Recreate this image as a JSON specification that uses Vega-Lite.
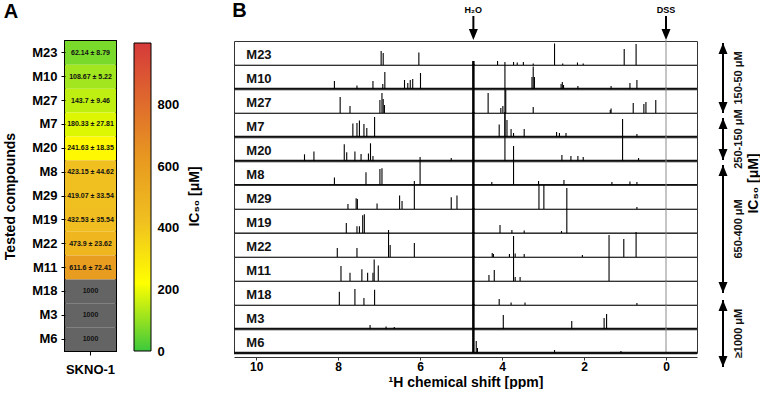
{
  "$schema": "https://vega.github.io/schema/vega-lite/v6.json",
  "padding": {"left": 2, "top": 0, "right": 0, "bottom": 0},
  "background": "white",
  "config": {
    "font": "Liberation Sans",
    "view": {"stroke": "#333", "strokeWidth": 1},
    "axis": {"labelColor": "#000", "titleColor": "#000", "grid": false},
    "title": {"color": "#000"}
  },
  "spacing": 30,
  "resolve": {"scale": {"x": "independent", "y": "independent", "color": "independent"}, "legend": {"color": "independent"}},
  "hconcat": [
    {
      "spacing": 16,
      "resolve": {"scale": {"x": "independent", "y": "independent", "color": "independent"}},
      "hconcat": [
        {
          "title": {"text": "A", "anchor": "start", "baseline": "alphabetic", "offset": 3, "fontSize": 20, "fontWeight": "bold"},
          "width": 51,
          "height": 310,
          "view": {"stroke": "black", "strokeWidth": 2},
          "data": {"values": [
            {"compound": "M23", "line": "SKNO-1", "ic50": 62.14, "label": "62.14 ± 8.79"},
            {"compound": "M10", "line": "SKNO-1", "ic50": 108.67, "label": "108.67 ± 5.22"},
            {"compound": "M27", "line": "SKNO-1", "ic50": 143.7, "label": "143.7 ± 9.46"},
            {"compound": "M7", "line": "SKNO-1", "ic50": 180.33, "label": "180.33 ± 27.81"},
            {"compound": "M20", "line": "SKNO-1", "ic50": 241.63, "label": "241.63 ± 18.35"},
            {"compound": "M8", "line": "SKNO-1", "ic50": 423.15, "label": "423.15 ± 44.62"},
            {"compound": "M29", "line": "SKNO-1", "ic50": 419.07, "label": "419.07 ± 33.54"},
            {"compound": "M19", "line": "SKNO-1", "ic50": 432.53, "label": "432.53 ± 35.54"},
            {"compound": "M22", "line": "SKNO-1", "ic50": 473.9, "label": "473.9 ± 23.62"},
            {"compound": "M11", "line": "SKNO-1", "ic50": 611.6, "label": "611.6 ± 72.41"},
            {"compound": "M18", "line": "SKNO-1", "ic50": 1000, "label": "1000"},
            {"compound": "M3", "line": "SKNO-1", "ic50": 1000, "label": "1000"},
            {"compound": "M6", "line": "SKNO-1", "ic50": 1000, "label": "1000"}
          ]},
          "encoding": {
            "x": {"field": "line", "type": "nominal", "axis": {"title": null, "labelAngle": 0, "labelFontSize": 13, "labelFontWeight": "bold", "labelPadding": 8, "tickSize": 4, "tickColor": "#000", "domain": false}},
            "y": {"field": "compound", "type": "nominal", "sort": null, "axis": {"title": "Tested compounds", "titleFontSize": 14, "titleFontWeight": "bold", "titlePadding": 14, "labelFontSize": 13, "labelFontWeight": "bold", "labelPadding": 4, "tickSize": 4, "tickColor": "#000", "domain": false}}
          },
          "layer": [
            {
              "mark": {"type": "rect"},
              "encoding": {
                "color": {
                  "condition": {"test": "datum.ic50 >= 1000", "value": "#646464"},
                  "field": "ic50", "type": "quantitative",
                  "scale": {"domain": [0, 220, 420, 620, 1000], "range": ["#3cc83c", "#ffff00", "#f0c020", "#e89a20", "#d63a3a"]},
                  "legend": null
                }
              }
            },
            {
              "mark": {"type": "text", "fontSize": 7, "fontWeight": "bold", "color": "#111"},
              "encoding": {"text": {"field": "label", "type": "nominal"}}
            }
          ]
        },
        {
          "width": 17,
          "height": 310,
          "view": {"stroke": null},
          "data": {"values": [{"lo": 0, "hi": 1000}]},
          "mark": {"type": "rect", "stroke": "#000", "strokeWidth": 1, "color": {"gradient": "linear", "x1": 0, "y1": 1, "x2": 0, "y2": 0, "stops": [{"offset": 0, "color": "#3cc83c"}, {"offset": 0.22, "color": "#ffff00"}, {"offset": 0.42, "color": "#f0c020"}, {"offset": 0.62, "color": "#e89a20"}, {"offset": 1, "color": "#d63a3a"}]}},
          "encoding": {
            "y": {"field": "lo", "type": "quantitative", "scale": {"domain": [0, 1006.5], "nice": false, "zero": false}, "axis": {"orient": "right", "values": [0, 200, 400, 600, 800], "title": "IC₅₀ [μM]", "titleAngle": 270, "titleFontSize": 14, "titleFontWeight": "bold", "titlePadding": 23, "labelFontSize": 13, "labelFontWeight": "bold", "labelPadding": 6, "ticks": false, "domain": false}},
            "y2": {"field": "hi"}
          }
        }
      ]
    },
    {
      "spacing": 12,
      "resolve": {"scale": {"x": "independent", "y": "independent"}},
      "hconcat": [
        {
          "title": {"text": "B", "anchor": "start", "baseline": "alphabetic", "offset": 18, "dy": 49, "fontSize": 20, "fontWeight": "bold"},
          "bounds": "flush",
          "data": {"values": [
            {"compound": "M23", "kind": "marker", "label": "H₂O", "ppm": 4.7},
            {"compound": "M23", "kind": "marker", "label": "DSS", "ppm": 0},
            {"compound": "M23", "kind": "base", "noise": 1},
            {"compound": "M10", "kind": "base", "noise": 2.5},
            {"compound": "M27", "kind": "base", "noise": 1},
            {"compound": "M7", "kind": "base", "noise": 2.5},
            {"compound": "M20", "kind": "base", "noise": 2.5},
            {"compound": "M8", "kind": "base", "noise": 2},
            {"compound": "M29", "kind": "base", "noise": 1},
            {"compound": "M19", "kind": "base", "noise": 1.5},
            {"compound": "M22", "kind": "base", "noise": 1},
            {"compound": "M11", "kind": "base", "noise": 1},
            {"compound": "M18", "kind": "base", "noise": 1},
            {"compound": "M3", "kind": "base", "noise": 2.5},
            {"compound": "M6", "kind": "base", "noise": 2.5},
            {"compound": "M23", "kind": "water", "ppm": 4.7, "h": 4},
            {"compound": "M10", "kind": "water", "ppm": 4.7, "h": 25},
            {"compound": "M27", "kind": "water", "ppm": 4.7, "h": 25},
            {"compound": "M7", "kind": "water", "ppm": 4.7, "h": 25},
            {"compound": "M20", "kind": "water", "ppm": 4.7, "h": 25},
            {"compound": "M8", "kind": "water", "ppm": 4.7, "h": 25},
            {"compound": "M29", "kind": "water", "ppm": 4.7, "h": 25},
            {"compound": "M19", "kind": "water", "ppm": 4.7, "h": 25},
            {"compound": "M22", "kind": "water", "ppm": 4.7, "h": 25},
            {"compound": "M11", "kind": "water", "ppm": 4.7, "h": 25},
            {"compound": "M18", "kind": "water", "ppm": 4.7, "h": 25},
            {"compound": "M3", "kind": "water", "ppm": 4.7, "h": 25},
            {"compound": "M6", "kind": "water", "ppm": 4.7, "h": 25},
            {"compound": "M23", "kind": "dss", "ppm": 0, "h": 25},
            {"compound": "M10", "kind": "dss", "ppm": 0, "h": 25},
            {"compound": "M27", "kind": "dss", "ppm": 0, "h": 25},
            {"compound": "M7", "kind": "dss", "ppm": 0, "h": 25},
            {"compound": "M20", "kind": "dss", "ppm": 0, "h": 25},
            {"compound": "M8", "kind": "dss", "ppm": 0, "h": 25},
            {"compound": "M29", "kind": "dss", "ppm": 0, "h": 25},
            {"compound": "M19", "kind": "dss", "ppm": 0, "h": 25},
            {"compound": "M22", "kind": "dss", "ppm": 0, "h": 25},
            {"compound": "M11", "kind": "dss", "ppm": 0, "h": 25},
            {"compound": "M18", "kind": "dss", "ppm": 0, "h": 25},
            {"compound": "M3", "kind": "dss", "ppm": 0, "h": 25},
            {"compound": "M6", "kind": "dss", "ppm": 0, "h": 25},
            {"compound": "M23", "kind": "peak", "ppm": 6.95, "h": 14},
            {"compound": "M23", "kind": "peak", "ppm": 6.9, "h": 12},
            {"compound": "M23", "kind": "peak", "ppm": 6.03, "h": 12.5},
            {"compound": "M23", "kind": "peak", "ppm": 4.11, "h": 4},
            {"compound": "M23", "kind": "peak", "ppm": 3.93, "h": 3},
            {"compound": "M23", "kind": "peak", "ppm": 3.72, "h": 3},
            {"compound": "M23", "kind": "peak", "ppm": 3.63, "h": 2.5},
            {"compound": "M23", "kind": "peak", "ppm": 3.48, "h": 3},
            {"compound": "M23", "kind": "peak", "ppm": 3.24, "h": 1.5},
            {"compound": "M23", "kind": "peak", "ppm": 2.72, "h": 21.5},
            {"compound": "M23", "kind": "peak", "ppm": 2.52, "h": 1.5},
            {"compound": "M23", "kind": "peak", "ppm": 2.16, "h": 2.5},
            {"compound": "M23", "kind": "peak", "ppm": 2.02, "h": 1.5},
            {"compound": "M23", "kind": "peak", "ppm": 1.02, "h": 16},
            {"compound": "M23", "kind": "peak", "ppm": 0.73, "h": 21},
            {"compound": "M10", "kind": "peak", "ppm": 8.09, "h": 8},
            {"compound": "M10", "kind": "peak", "ppm": 7.54, "h": 3.5},
            {"compound": "M10", "kind": "peak", "ppm": 7.15, "h": 8},
            {"compound": "M10", "kind": "peak", "ppm": 6.91, "h": 5},
            {"compound": "M10", "kind": "peak", "ppm": 6.86, "h": 17},
            {"compound": "M10", "kind": "peak", "ppm": 6.38, "h": 9},
            {"compound": "M10", "kind": "peak", "ppm": 6.3, "h": 6},
            {"compound": "M10", "kind": "peak", "ppm": 6.24, "h": 9},
            {"compound": "M10", "kind": "peak", "ppm": 6.18, "h": 10},
            {"compound": "M10", "kind": "peak", "ppm": 5.99, "h": 16},
            {"compound": "M10", "kind": "peak", "ppm": 3.27, "h": 12},
            {"compound": "M10", "kind": "peak", "ppm": 3.24, "h": 22.5},
            {"compound": "M10", "kind": "peak", "ppm": 3.21, "h": 12},
            {"compound": "M10", "kind": "peak", "ppm": 2.56, "h": 5},
            {"compound": "M10", "kind": "peak", "ppm": 2.53, "h": 7},
            {"compound": "M10", "kind": "peak", "ppm": 2.5, "h": 4},
            {"compound": "M10", "kind": "peak", "ppm": 2.15, "h": 3},
            {"compound": "M10", "kind": "peak", "ppm": 1.34, "h": 3},
            {"compound": "M10", "kind": "peak", "ppm": 0.88, "h": 6},
            {"compound": "M10", "kind": "peak", "ppm": 0.71, "h": 9},
            {"compound": "M27", "kind": "peak", "ppm": 7.95, "h": 16},
            {"compound": "M27", "kind": "peak", "ppm": 7.71, "h": 7},
            {"compound": "M27", "kind": "peak", "ppm": 6.98, "h": 13},
            {"compound": "M27", "kind": "peak", "ppm": 6.93, "h": 20},
            {"compound": "M27", "kind": "peak", "ppm": 6.9, "h": 14},
            {"compound": "M27", "kind": "peak", "ppm": 6.87, "h": 8},
            {"compound": "M27", "kind": "peak", "ppm": 4.34, "h": 20},
            {"compound": "M27", "kind": "peak", "ppm": 4.03, "h": 5},
            {"compound": "M27", "kind": "peak", "ppm": 3.98, "h": 7},
            {"compound": "M27", "kind": "peak", "ppm": 3.91, "h": 23},
            {"compound": "M27", "kind": "peak", "ppm": 3.24, "h": 6},
            {"compound": "M27", "kind": "peak", "ppm": 1.36, "h": 3},
            {"compound": "M27", "kind": "peak", "ppm": 1.34, "h": 4.5},
            {"compound": "M27", "kind": "peak", "ppm": 0.8, "h": 10},
            {"compound": "M27", "kind": "peak", "ppm": 0.54, "h": 9},
            {"compound": "M27", "kind": "peak", "ppm": 0.49, "h": 11},
            {"compound": "M27", "kind": "peak", "ppm": 0.25, "h": 13},
            {"compound": "M7", "kind": "peak", "ppm": 7.64, "h": 13.5},
            {"compound": "M7", "kind": "peak", "ppm": 7.54, "h": 14},
            {"compound": "M7", "kind": "peak", "ppm": 7.48, "h": 16.5},
            {"compound": "M7", "kind": "peak", "ppm": 7.37, "h": 13},
            {"compound": "M7", "kind": "peak", "ppm": 7.3, "h": 9},
            {"compound": "M7", "kind": "peak", "ppm": 7.11, "h": 20},
            {"compound": "M7", "kind": "peak", "ppm": 4.07, "h": 12.5},
            {"compound": "M7", "kind": "peak", "ppm": 3.93, "h": 25},
            {"compound": "M7", "kind": "peak", "ppm": 3.88, "h": 17},
            {"compound": "M7", "kind": "peak", "ppm": 3.78, "h": 8},
            {"compound": "M7", "kind": "peak", "ppm": 3.72, "h": 4},
            {"compound": "M7", "kind": "peak", "ppm": 3.46, "h": 8},
            {"compound": "M7", "kind": "peak", "ppm": 2.67, "h": 5},
            {"compound": "M7", "kind": "peak", "ppm": 2.6, "h": 4},
            {"compound": "M7", "kind": "peak", "ppm": 2.44, "h": 4},
            {"compound": "M7", "kind": "peak", "ppm": 0.71, "h": 3},
            {"compound": "M20", "kind": "peak", "ppm": 8.82, "h": 6.7},
            {"compound": "M20", "kind": "peak", "ppm": 8.59, "h": 9.4},
            {"compound": "M20", "kind": "peak", "ppm": 7.85, "h": 16.7},
            {"compound": "M20", "kind": "peak", "ppm": 7.79, "h": 8.7},
            {"compound": "M20", "kind": "peak", "ppm": 7.59, "h": 9.4},
            {"compound": "M20", "kind": "peak", "ppm": 7.44, "h": 7},
            {"compound": "M20", "kind": "peak", "ppm": 7.26, "h": 7.5},
            {"compound": "M20", "kind": "peak", "ppm": 7.21, "h": 17.7},
            {"compound": "M20", "kind": "peak", "ppm": 7.15, "h": 5},
            {"compound": "M20", "kind": "peak", "ppm": 5.24, "h": 3},
            {"compound": "M20", "kind": "peak", "ppm": 3.93, "h": 96},
            {"compound": "M20", "kind": "peak", "ppm": 2.54, "h": 6},
            {"compound": "M20", "kind": "peak", "ppm": 2.32, "h": 5},
            {"compound": "M20", "kind": "peak", "ppm": 2.15, "h": 5},
            {"compound": "M20", "kind": "peak", "ppm": 2.02, "h": 4},
            {"compound": "M20", "kind": "peak", "ppm": 1.06, "h": 42},
            {"compound": "M20", "kind": "peak", "ppm": 0.67, "h": 3},
            {"compound": "M8", "kind": "peak", "ppm": 8.09, "h": 7.4},
            {"compound": "M8", "kind": "peak", "ppm": 7.32, "h": 12.7},
            {"compound": "M8", "kind": "peak", "ppm": 6.98, "h": 16},
            {"compound": "M8", "kind": "peak", "ppm": 6.93, "h": 16.7},
            {"compound": "M8", "kind": "peak", "ppm": 6.0, "h": 28},
            {"compound": "M8", "kind": "peak", "ppm": 4.25, "h": 3},
            {"compound": "M8", "kind": "peak", "ppm": 3.72, "h": 39},
            {"compound": "M8", "kind": "peak", "ppm": 3.11, "h": 4},
            {"compound": "M8", "kind": "peak", "ppm": 2.49, "h": 5},
            {"compound": "M8", "kind": "peak", "ppm": 1.32, "h": 3},
            {"compound": "M8", "kind": "peak", "ppm": 0.88, "h": 3.5},
            {"compound": "M8", "kind": "peak", "ppm": 0.71, "h": 3},
            {"compound": "M29", "kind": "peak", "ppm": 7.76, "h": 5},
            {"compound": "M29", "kind": "peak", "ppm": 7.56, "h": 10.7},
            {"compound": "M29", "kind": "peak", "ppm": 7.53, "h": 10},
            {"compound": "M29", "kind": "peak", "ppm": 7.05, "h": 5.5},
            {"compound": "M29", "kind": "peak", "ppm": 6.5, "h": 13.4},
            {"compound": "M29", "kind": "peak", "ppm": 6.44, "h": 8},
            {"compound": "M29", "kind": "peak", "ppm": 6.14, "h": 28},
            {"compound": "M29", "kind": "peak", "ppm": 5.24, "h": 11.7},
            {"compound": "M29", "kind": "peak", "ppm": 5.1, "h": 13.4},
            {"compound": "M29", "kind": "peak", "ppm": 3.1, "h": 24},
            {"compound": "M29", "kind": "peak", "ppm": 2.98, "h": 24},
            {"compound": "M29", "kind": "peak", "ppm": 0.71, "h": 2},
            {"compound": "M19", "kind": "peak", "ppm": 7.8, "h": 10},
            {"compound": "M19", "kind": "peak", "ppm": 7.54, "h": 6.7},
            {"compound": "M19", "kind": "peak", "ppm": 7.48, "h": 6.7},
            {"compound": "M19", "kind": "peak", "ppm": 7.4, "h": 17.7},
            {"compound": "M19", "kind": "peak", "ppm": 7.36, "h": 18.7},
            {"compound": "M19", "kind": "peak", "ppm": 4.05, "h": 8},
            {"compound": "M19", "kind": "peak", "ppm": 3.76, "h": 3},
            {"compound": "M19", "kind": "peak", "ppm": 3.46, "h": 2.5},
            {"compound": "M19", "kind": "peak", "ppm": 2.55, "h": 2},
            {"compound": "M19", "kind": "peak", "ppm": 2.42, "h": 45},
            {"compound": "M22", "kind": "peak", "ppm": 8.02, "h": 9},
            {"compound": "M22", "kind": "peak", "ppm": 7.54, "h": 9},
            {"compound": "M22", "kind": "peak", "ppm": 6.77, "h": 27},
            {"compound": "M22", "kind": "peak", "ppm": 6.73, "h": 12},
            {"compound": "M22", "kind": "peak", "ppm": 6.14, "h": 14},
            {"compound": "M22", "kind": "peak", "ppm": 4.24, "h": 4},
            {"compound": "M22", "kind": "peak", "ppm": 4.21, "h": 3},
            {"compound": "M22", "kind": "peak", "ppm": 3.82, "h": 3},
            {"compound": "M22", "kind": "peak", "ppm": 3.68, "h": 3.5},
            {"compound": "M22", "kind": "peak", "ppm": 3.46, "h": 3},
            {"compound": "M22", "kind": "peak", "ppm": 2.04, "h": 2},
            {"compound": "M22", "kind": "peak", "ppm": 1.03, "h": 18},
            {"compound": "M22", "kind": "peak", "ppm": 0.73, "h": 25},
            {"compound": "M11", "kind": "peak", "ppm": 7.93, "h": 15},
            {"compound": "M11", "kind": "peak", "ppm": 7.71, "h": 8.3},
            {"compound": "M11", "kind": "peak", "ppm": 7.42, "h": 11.7},
            {"compound": "M11", "kind": "peak", "ppm": 7.28, "h": 8.3},
            {"compound": "M11", "kind": "peak", "ppm": 7.15, "h": 8.3},
            {"compound": "M11", "kind": "peak", "ppm": 7.12, "h": 21.5},
            {"compound": "M11", "kind": "peak", "ppm": 7.02, "h": 15.5},
            {"compound": "M11", "kind": "peak", "ppm": 4.32, "h": 6},
            {"compound": "M11", "kind": "peak", "ppm": 4.19, "h": 11},
            {"compound": "M11", "kind": "peak", "ppm": 3.72, "h": 45},
            {"compound": "M11", "kind": "peak", "ppm": 3.68, "h": 4},
            {"compound": "M11", "kind": "peak", "ppm": 3.56, "h": 4},
            {"compound": "M11", "kind": "peak", "ppm": 1.39, "h": 46},
            {"compound": "M18", "kind": "peak", "ppm": 7.97, "h": 13.3},
            {"compound": "M18", "kind": "peak", "ppm": 7.59, "h": 16},
            {"compound": "M18", "kind": "peak", "ppm": 7.37, "h": 7},
            {"compound": "M18", "kind": "peak", "ppm": 7.11, "h": 15.3},
            {"compound": "M18", "kind": "peak", "ppm": 4.07, "h": 6},
            {"compound": "M18", "kind": "peak", "ppm": 3.78, "h": 2.5},
            {"compound": "M18", "kind": "peak", "ppm": 3.44, "h": 2.5},
            {"compound": "M18", "kind": "peak", "ppm": 0.71, "h": 2},
            {"compound": "M3", "kind": "peak", "ppm": 7.22, "h": 4},
            {"compound": "M3", "kind": "peak", "ppm": 6.83, "h": 2.5},
            {"compound": "M3", "kind": "peak", "ppm": 6.63, "h": 2},
            {"compound": "M3", "kind": "peak", "ppm": 3.97, "h": 14},
            {"compound": "M3", "kind": "peak", "ppm": 2.3, "h": 8},
            {"compound": "M3", "kind": "peak", "ppm": 1.51, "h": 11},
            {"compound": "M3", "kind": "peak", "ppm": 1.45, "h": 15},
            {"compound": "M6", "kind": "peak", "ppm": 4.63, "h": 12},
            {"compound": "M6", "kind": "peak", "ppm": 4.6, "h": 5},
            {"compound": "M6", "kind": "peak", "ppm": 2.72, "h": 3},
            {"compound": "M6", "kind": "peak", "ppm": 1.1, "h": 2}
          ]},
          "facet": {"row": {"field": "compound", "type": "nominal", "sort": ["M23", "M10", "M27", "M7", "M20", "M8", "M29", "M19", "M22", "M11", "M18", "M3", "M6"], "header": null}},
          "spacing": 0,
          "spec": {
            "width": 463,
            "height": 24,
            "layer": [
              {
                "transform": [{"filter": "datum.kind === 'dss'"}],
                "mark": {"type": "rule", "color": "#8a8a8a", "strokeWidth": 1},
                "encoding": {
                  "x": {"field": "ppm", "type": "quantitative", "scale": {"domain": [-0.756, 10.54], "reverse": true, "nice": false, "zero": false}, "axis": {"values": [10, 8, 6, 4, 2, 0], "labelOverlap": false, "labelFlush": false, "offset": 4, "domainColor": "#333", "tickColor": "#333", "tickSize": 3, "labelFontSize": 12, "labelFontWeight": "bold", "labelPadding": 1, "title": "¹H chemical shift [ppm]", "titleFontSize": 14, "titleFontWeight": "bold", "titlePadding": 3}},
                  "y": {"field": "h", "type": "quantitative", "scale": {"domain": [0, 24], "nice": false, "zero": false}, "axis": null},
                  "y2": {"datum": 0}
                }
              },
              {
                "transform": [{"filter": "datum.kind === 'base'"}],
                "mark": {"type": "rule", "color": "#111"},
                "encoding": {
                  "x": {"datum": 10.54, "type": "quantitative"},
                  "x2": {"datum": -0.756},
                  "y": {"datum": 0, "type": "quantitative"},
                  "strokeWidth": {"field": "noise", "type": "quantitative", "scale": {"domain": [1, 2.5], "range": [0.6, 2.5]}, "legend": null}
                }
              },
              {
                "transform": [{"filter": "datum.kind === 'peak'"}],
                "mark": {"type": "rule", "color": "#000", "strokeWidth": 1.1},
                "encoding": {
                  "x": {"field": "ppm", "type": "quantitative"},
                  "y": {"field": "h", "type": "quantitative"},
                  "y2": {"datum": 0}
                }
              },
              {
                "transform": [{"filter": "datum.kind === 'water'"}],
                "mark": {"type": "rule", "color": "#000", "strokeWidth": 2.5},
                "encoding": {
                  "x": {"field": "ppm", "type": "quantitative"},
                  "y": {"field": "h", "type": "quantitative"},
                  "y2": {"datum": 0}
                }
              },
              {
                "transform": [{"filter": "datum.kind === 'base'"}],
                "mark": {"type": "text", "align": "left", "baseline": "alphabetic", "fontSize": 13, "fontWeight": "bold", "color": "#111"},
                "encoding": {
                  "x": {"datum": 10.24, "type": "quantitative"},
                  "y": {"datum": 6, "type": "quantitative"},
                  "text": {"field": "compound", "type": "nominal"}
                }
              },
              {
                "transform": [{"filter": "datum.kind === 'marker'"}],
                "mark": {"type": "text", "baseline": "top", "fontSize": 9, "fontWeight": "bold", "color": "#000"},
                "encoding": {
                  "x": {"field": "ppm", "type": "quantitative"},
                  "y": {"datum": 59, "type": "quantitative"},
                  "text": {"field": "label", "type": "nominal"}
                }
              },
              {
                "transform": [{"filter": "datum.kind === 'marker'"}],
                "mark": {"type": "rule", "strokeWidth": 2, "color": "#000"},
                "encoding": {
                  "x": {"field": "ppm", "type": "quantitative"},
                  "y": {"datum": 49, "type": "quantitative"},
                  "y2": {"datum": 28.5}
                }
              },
              {
                "transform": [{"filter": "datum.kind === 'marker'"}],
                "mark": {"type": "point", "shape": "M0,0L-0.9,-2.2L0.9,-2.2Z", "size": 100, "filled": true, "color": "#000", "opacity": 1, "strokeWidth": 0},
                "encoding": {
                  "x": {"field": "ppm", "type": "quantitative"},
                  "y": {"datum": 25, "type": "quantitative"}
                }
              }
            ]
          }
        },
        {
          "width": 24,
          "height": 330,
          "view": {"stroke": null},
          "data": {"values": [
            {"range": "150-50 μM", "end": "top", "pos": 0.08},
            {"range": "150-50 μM", "end": "bottom", "pos": 2.97},
            {"range": "250-150 μM", "end": "top", "pos": 3.18},
            {"range": "250-150 μM", "end": "bottom", "pos": 4.91},
            {"range": "650-400 μM", "end": "top", "pos": 5.11},
            {"range": "650-400 μM", "end": "bottom", "pos": 10.39},
            {"range": "≥1000 μM", "end": "top", "pos": 10.68},
            {"range": "≥1000 μM", "end": "bottom", "pos": 13.44}
          ]},
          "layer": [
            {
              "transform": [{"aggregate": [{"op": "min", "field": "pos", "as": "top"}, {"op": "max", "field": "pos", "as": "bottom"}], "groupby": ["range"]}],
              "mark": {"type": "rule", "strokeWidth": 2, "color": "#000"},
              "encoding": {
                "y": {"field": "top", "type": "quantitative", "scale": {"domain": [0, 13.608], "reverse": true, "nice": false, "zero": false}, "axis": {"orient": "right", "title": "IC₅₀ [μM]", "labels": false, "ticks": false, "domain": false, "titleAngle": 270, "titleFontSize": 14, "titleFontWeight": "bold", "titleX": 18, "titleY": 142, "titleAlign": "center", "titleBaseline": "middle"}},
                "y2": {"field": "bottom"}
              }
            },
            {
              "mark": {"type": "point", "size": 100, "filled": true, "color": "#000", "opacity": 1, "strokeWidth": 0},
              "encoding": {
                "y": {"field": "pos", "type": "quantitative"},
                "shape": {"field": "end", "type": "nominal", "scale": {"domain": ["top", "bottom"], "range": ["M0,0L-0.9,2.2L0.9,2.2Z", "M0,0L-0.9,-2.2L0.9,-2.2Z"]}, "legend": null}
              }
            },
            {
              "transform": [{"aggregate": [{"op": "mean", "field": "pos", "as": "mid"}], "groupby": ["range"]}],
              "mark": {"type": "text", "angle": 270, "dy": 16, "fontSize": 11, "fontWeight": "bold", "color": "#111"},
              "encoding": {
                "y": {"field": "mid", "type": "quantitative"},
                "text": {"field": "range", "type": "nominal"}
              }
            }
          ]
        }
      ]
    }
  ]
}
